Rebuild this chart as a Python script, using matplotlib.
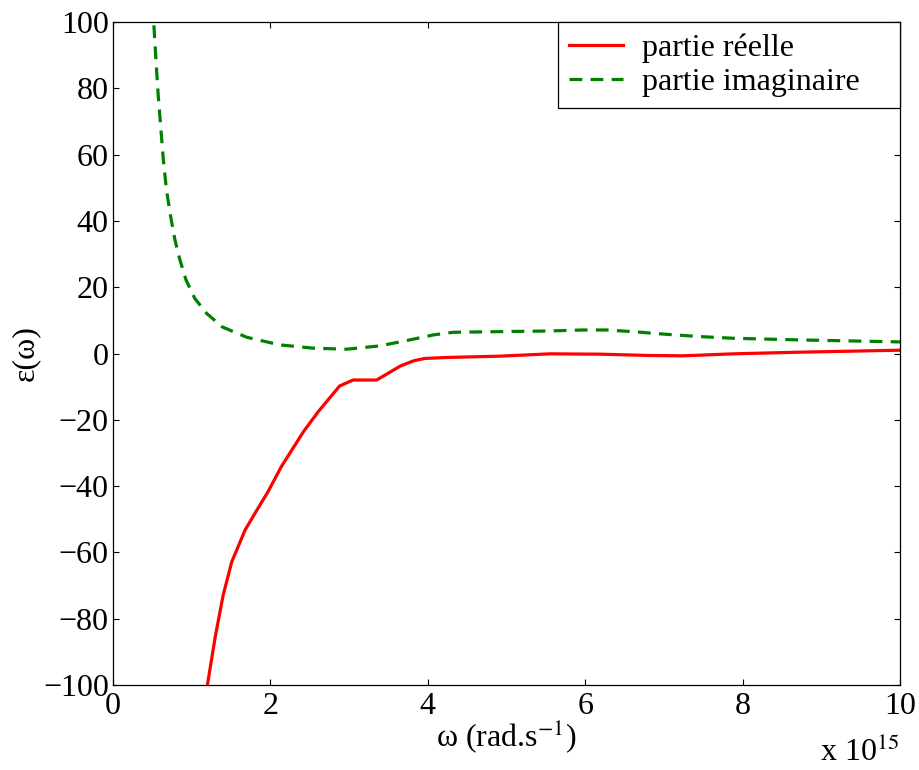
import matplotlib
matplotlib.use("Agg")
from matplotlib import pyplot as plt

plt.rcParams['font.family'] = ['Liberation Serif', 'DejaVu Serif']
plt.rcParams['mathtext.fontset'] = 'stix'

# partie reelle (omega en 1e15 rad/s)
w_re = [1.20, 1.30, 1.40, 1.51, 1.68, 1.83, 1.97, 2.14, 2.42, 2.61, 2.88, 3.05,
        3.35, 3.65, 3.82, 3.96, 4.24, 4.92, 5.55, 6.19, 6.82, 7.24, 7.88, 8.73, 10.0]
eps_re = [-100, -85.4, -72.9, -62.8, -53.2, -47.2, -41.7, -34.1, -23.6, -17.5, -9.8, -8.0,
          -8.0, -3.8, -2.2, -1.5, -1.2, -0.8, -0.1, -0.2, -0.6, -0.7, -0.1, 0.4, 1.0]

# partie imaginaire
w_im = [0.52, 0.546, 0.576, 0.61, 0.64, 0.68, 0.733, 0.788, 0.851, 0.928, 1.04,
        1.19, 1.39, 1.70, 2.12, 2.55, 2.97, 3.39, 3.77, 4.07, 4.32, 4.92, 5.55,
        5.97, 6.27, 6.60, 7.03, 7.46, 7.88, 8.73, 10.0]
eps_im = [99, 88.5, 77.5, 67.4, 58.4, 49.3, 41.3, 34.2, 28.2, 22.2, 16.6,
          12.1, 8.0, 4.9, 2.6, 1.6, 1.3, 2.3, 4.1, 5.6, 6.4, 6.6, 6.8,
          7.1, 7.1, 6.6, 5.8, 5.1, 4.6, 4.1, 3.5]

fig = plt.figure(figsize=(9.2, 7.7), dpi=100)
ax = fig.add_axes([0.1228, 0.1104, 0.8554, 0.861])

ax.plot(w_re, eps_re, color='#ff0000', lw=2.3, label='partie réelle')
ax.plot(w_im, eps_im, color='#008000', lw=2.3, ls=(0, (4, 2.6)), label='partie imaginaire')

ax.set_xlim(0, 10)
ax.set_ylim(-100, 100)
ax.set_xticks([0, 2, 4, 6, 8, 10])
ax.set_yticks(range(-100, 101, 20))
ax.tick_params(direction='in', top=True, right=True, length=4.5, width=0.8,
               labelsize=23)
ax.tick_params(axis='x', pad=5)
ax.tick_params(axis='y', pad=3)
for s in ax.spines.values():
    s.set_linewidth(0.9)

ax.set_xlabel('ω (rad.s$^{-1}$)', fontsize=23, labelpad=-3)
ax.set_ylabel('ε(ω)', fontsize=23, labelpad=2)
fig.text(0.978, 0.003, 'x 10$^{15}$', ha='right', va='bottom', fontsize=23)

leg = ax.legend(loc='upper right', bbox_to_anchor=(0.565, 0, 0.435, 1), mode='expand',
                fontsize=23, fancybox=False, framealpha=1,
                edgecolor='black', borderaxespad=0, handlelength=1.7,
                handletextpad=0.6, labelspacing=0.15, borderpad=0.35)
leg.get_frame().set_linewidth(0.9)

fig.savefig('out.png', dpi=100)
